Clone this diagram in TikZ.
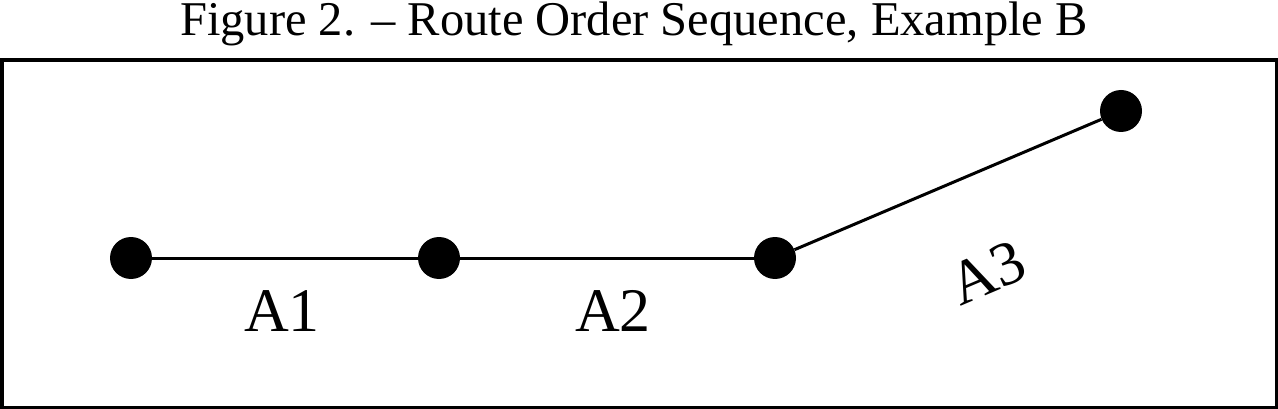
\documentclass[tikz,border=0pt]{standalone}
\usepackage{fontspec}
\setmainfont{Liberation Serif}
\begin{document}
\begin{tikzpicture}[x=1pt,y=-1pt,
  dot/.style={circle,fill=black,inner sep=0pt,minimum size=42pt},
  seg/.style={line width=3pt},
  lbl/.style={font=\fontsize{62}{66}\selectfont,inner sep=0pt},
  frame/.style={line width=3.5pt}]
\useasboundingbox (0,0) rectangle (1278,409);
\node[inner sep=0pt,anchor=base,font=\fontsize{48.5}{54}\selectfont] (title) at (634,35.5) {Figure 2. -- Route Order Sequence, Example B};
\draw[frame] (1.75,60) rectangle (1276.25,407.25);
\node[dot] (p1) at (131,258) {};
\node[dot] (p2) at (439,258) {};
\node[dot] (p3) at (775,258) {};
\node[dot] (p4) at (1121,111) {};
\draw[seg] (p1) -- (p2);
\draw[seg] (p2) -- (p3);
\draw[seg] (p3) -- (p4);
\node[lbl] (a1) at (282,311) {A1};
\node[lbl] (a2) at (613,311) {A2};
\node[lbl,rotate=23] (a3) at (987,273) {A3};
\end{tikzpicture}
\end{document}
